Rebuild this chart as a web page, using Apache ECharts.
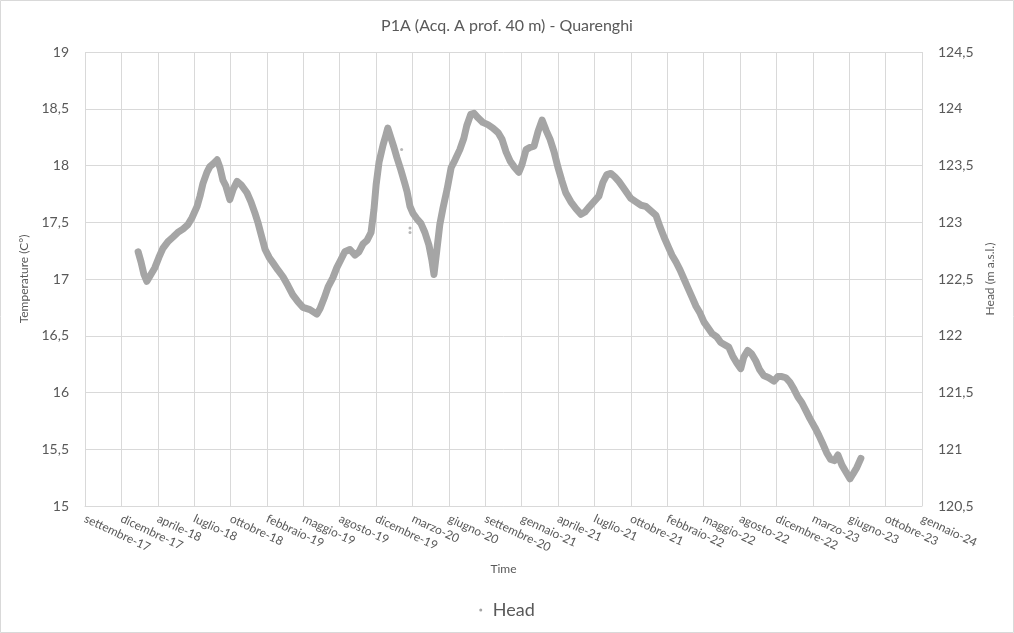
<!DOCTYPE html>
<html>
<head>
<meta charset="utf-8">
<script src="https://cdn.jsdelivr.net/npm/echarts@6/dist/echarts.min.js"></script>
<style>
html,body{margin:0;padding:0;background:#fff;}
#chart{width:1014px;height:633px;}
</style>
</head>
<body>
<div id="chart"></div>
<script>
// Days since 2017-09-22 (first axis tick) for each reading
const startDate = '2017-09-22';
const days = [146,154,162,170,181,192,203,214,228,242,255,269,283,294,308,316,324,335,343,354,363,371,379,387,398,407,418,429,445,456,467,475,484,495,506,517,530,544,558,571,585,599,618,637,646,657,668,681,692,703,714,728,742,753,764,775,786,794,800,808,819,827,832,841,849,857,868,879,885,893,901,912,923,934,945,953,959,967,975,984,995,1006,1017,1030,1041,1049,1060,1069,1080,1093,1107,1121,1135,1146,1157,1168,1179,1192,1201,1212,1223,1234,1245,1256,1267,1278,1289,1300,1310,1321,1335,1349,1363,1374,1387,1401,1412,1423,1434,1445,1456,1467,1478,1489,1500,1514,1528,1541,1555,1569,1580,1591,1602,1613,1624,1635,1646,1657,1668,1679,1690,1701,1712,1723,1736,1747,1769,1780,1791,1802,1810,1821,1832,1843,1854,1865,1879,1893,1904,1915,1926,1937,1948,1959,1970,1981,1992,2006,2017,2027,2038,2049,2060,2069,2080,2091,2102,2110,2121,2132];
const head = [122.74,122.65,122.54,122.48,122.54,122.60,122.69,122.77,122.83,122.87,122.91,122.94,122.98,123.04,123.14,123.23,123.34,123.44,123.49,123.52,123.55,123.48,123.37,123.32,123.20,123.29,123.36,123.33,123.26,123.18,123.08,123.00,122.89,122.76,122.69,122.64,122.58,122.52,122.44,122.36,122.30,122.25,122.23,122.19,122.24,122.33,122.43,122.51,122.60,122.67,122.74,122.76,122.71,122.74,122.81,122.84,122.91,123.11,123.33,123.53,123.68,123.77,123.83,123.74,123.66,123.57,123.46,123.34,123.27,123.14,123.08,123.03,122.99,122.91,122.80,122.67,122.54,122.76,122.98,123.13,123.29,123.48,123.55,123.64,123.74,123.85,123.95,123.96,123.92,123.88,123.86,123.83,123.79,123.73,123.62,123.54,123.49,123.44,123.51,123.64,123.66,123.67,123.80,123.90,123.81,123.73,123.62,123.48,123.37,123.26,123.18,123.12,123.07,123.09,123.14,123.19,123.23,123.35,123.42,123.43,123.40,123.36,123.31,123.26,123.21,123.18,123.15,123.14,123.10,123.06,122.96,122.87,122.79,122.71,122.65,122.58,122.50,122.42,122.34,122.26,122.20,122.12,122.07,122.02,121.99,121.94,121.90,121.82,121.76,121.71,121.81,121.87,121.84,121.78,121.70,121.65,121.63,121.60,121.64,121.64,121.63,121.59,121.53,121.46,121.41,121.34,121.27,121.19,121.12,121.05,120.97,120.91,120.90,120.95,120.86,120.80,120.74,120.78,120.84,120.92];
// isolated readings
const outlierDays = [870,893,893];
const outlierHead = [123.64,122.91,122.95];

const xTickLabels = ['settembre-17','dicembre-17','aprile-18','luglio-18','ottobre-18','febbraio-19','maggio-19','agosto-19','dicembre-19','marzo-20','giugno-20','settembre-20','gennaio-21','aprile-21','luglio-21','ottobre-21','febbraio-22','maggio-22','agosto-22','dicembre-22','marzo-23','giugno-23','ottobre-23','gennaio-24'];

const FONT = 'Lato, "Liberation Sans", sans-serif';
const TXT = '#595959';
const GRID = '#d9d9d9';
const SERIES = '#a5a5a5';
const comma = v => String(v).replace('.', ',');

const mainData = days.map((d, i) => [d, head[i]]);
const outData = outlierDays.map((d, i) => [d, outlierHead[i]]);

const chart = echarts.init(document.getElementById('chart'));
chart.setOption({
  animation: false,
  backgroundColor: '#fff',
  textStyle: { fontFamily: FONT },
  graphic: [{
    type: 'rect', silent: true, z: -1,
    shape: { x: 0.5, y: 0.5, width: 1013, height: 632 },
    style: { fill: 'none', stroke: GRID, lineWidth: 1 }
  }],
  title: {
    text: 'P1A (Acq. A prof. 40 m) - Quarenghi',
    left: 'center', top: 13,
    textStyle: { fontFamily: FONT, fontSize: 16, fontWeight: 'normal', color: TXT }
  },
  legend: {
    bottom: 9, left: 'center',
    data: ['Head'],
    icon: 'circle', itemWidth: 14, itemHeight: 3,
    textStyle: { fontFamily: FONT, fontSize: 18, color: TXT }
  },
  grid: { left: 85, right: 92, top: 52, bottom: 127, outerBoundsMode: 'none', containLabel: false },
  xAxis: {
    type: 'value', min: 0, max: 2300, interval: 100,
    name: 'Time', nameLocation: 'middle', nameGap: 57,
    nameTextStyle: { fontFamily: FONT, fontSize: 12, color: TXT },
    axisLine: { show: true, lineStyle: { color: GRID } },
    axisTick: { show: false },
    splitLine: { show: true, lineStyle: { color: GRID } },
    axisLabel: {
      rotate: -25, fontSize: 12, color: TXT, fontFamily: FONT, margin: 12,
      showMinLabel: true, showMaxLabel: true,
      formatter: v => xTickLabels[Math.round(v / 100)] || ''
    }
  },
  yAxis: [{
    type: 'value', min: 15, max: 19, interval: 0.5,
    name: 'Temperature (C°)', nameLocation: 'middle', nameRotate: 90, nameGap: 46,
    nameTextStyle: { fontFamily: FONT, fontSize: 12, color: TXT },
    axisLine: { show: false }, axisTick: { show: false },
    splitLine: { show: true, lineStyle: { color: GRID } },
    axisLabel: { fontSize: 14, color: TXT, fontFamily: FONT, margin: 16, formatter: comma }
  }, {
    type: 'value', min: 120.5, max: 124.5, interval: 0.5, position: 'right',
    name: 'Head (m a.s.l.)', nameLocation: 'middle', nameRotate: 90, nameGap: 62,
    nameTextStyle: { fontFamily: FONT, fontSize: 12, color: TXT },
    axisLine: { show: false }, axisTick: { show: false },
    splitLine: { show: false },
    axisLabel: { fontSize: 14, color: TXT, fontFamily: FONT, margin: 16, formatter: comma }
  }],
  series: [{
    name: 'Head', type: 'line', yAxisIndex: 1,
    data: mainData, showSymbol: false, symbol: 'circle',
    itemStyle: { color: SERIES },
    lineStyle: { color: SERIES, width: 7, cap: 'round', join: 'round' }
  }, {
    name: 'Head', type: 'scatter', yAxisIndex: 1,
    data: outData, symbol: 'circle', symbolSize: 3,
    itemStyle: { color: SERIES }
  }]
});
</script>
</body>
</html>
